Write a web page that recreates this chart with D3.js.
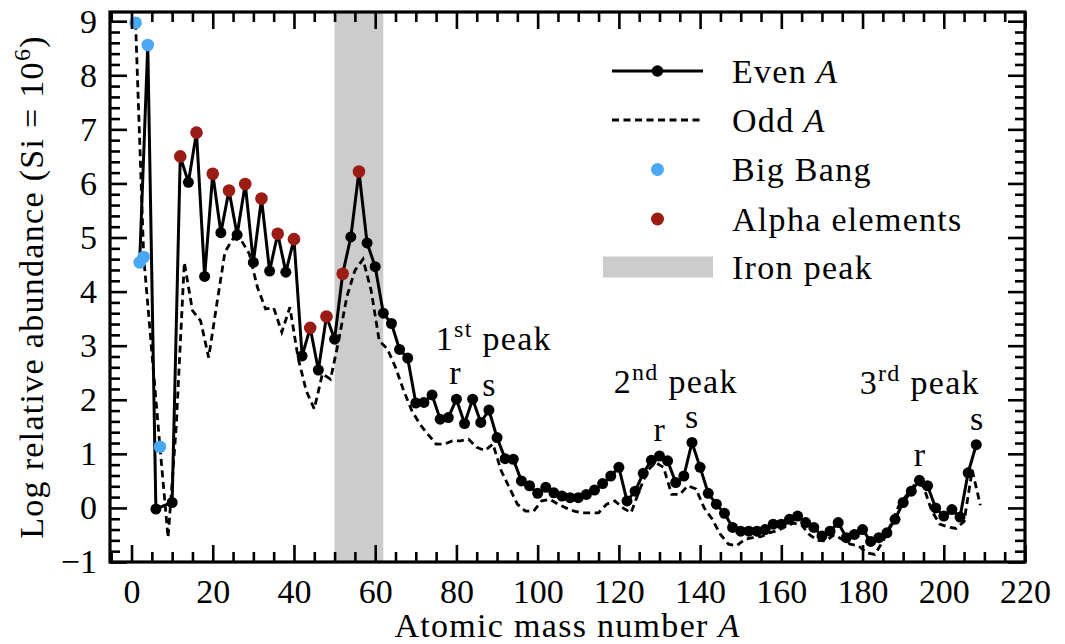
<!DOCTYPE html>
<html>
<head>
<meta charset="utf-8">
<title>Abundances</title>
<script src="https://cdn.jsdelivr.net/npm/d3@7"></script>
<style>
  body { margin: 0; background: #fff; }
  text { font-family: "Liberation Serif", serif; fill: #000; }
  .wide { letter-spacing: 1.3px; }
</style>
</head>
<body>
<div id="chart"></div>
<script>

// even mass numbers and their log abundance
var evenA = [2, 4, 6, 10, 12, 14, 16, 18, 20, 22, 24, 26, 28, 30, 32, 34, 36, 38, 40, 42, 44, 46, 48, 50,
  52, 54, 56, 58, 60, 62, 64, 66, 68, 70, 72, 74, 76, 78, 80, 82, 84, 86, 88, 90, 92, 94, 96, 98, 100,
  102, 104, 106, 108, 110, 112, 114, 116, 118, 120, 122, 124, 126, 128, 130, 132, 134, 136, 138, 140,
  142, 144, 146, 148, 150, 152, 154, 156, 158, 160, 162, 164, 166, 168, 170, 172, 174, 176, 178, 180,
  182, 184, 186, 188, 190, 192, 194, 196, 198, 200, 202, 204, 206, 208];
var evenLog = [4.54, 8.56, -0.02, 0.10, 6.50, 6.02, 6.94, 4.28, 6.18, 5.09, 5.87, 5.05, 5.99, 4.54, 5.72, 4.38,
  5.07, 4.36, 4.97, 2.81, 3.33, 2.55, 3.54, 3.12, 4.33, 5.01, 6.22, 4.90, 4.46, 3.60, 3.41, 2.93, 2.77,
  1.94, 1.95, 2.09, 1.64, 1.67, 2.01, 1.56, 2.01, 1.58, 1.81, 1.30, 0.91, 0.90, 0.50, 0.41, 0.27, 0.38,
  0.28, 0.22, 0.19, 0.19, 0.25, 0.33, 0.45, 0.59, 0.75, 0.13, 0.31, 0.64, 0.88, 0.96, 0.87, 0.47, 0.59,
  1.21, 0.75, 0.27, 0.07, -0.10, -0.36, -0.43, -0.43, -0.43, -0.40, -0.30, -0.30, -0.21, -0.15, -0.27,
  -0.36, -0.52, -0.43, -0.27, -0.55, -0.49, -0.40, -0.62, -0.55, -0.46, -0.21, 0.10, 0.31, 0.51, 0.41,
  0.00, -0.15, -0.03, -0.17, 0.65, 1.17];

// odd mass numbers and their log abundance
var oddA = [1, 3, 7, 9, 11, 13, 15, 17, 19, 21, 23, 25, 27, 29, 31, 33, 35, 37, 39, 41, 43, 45, 47, 49, 51,
  53, 55, 57, 59, 61, 63, 65, 67, 69, 71, 73, 75, 77, 79, 81, 83, 85, 87, 89, 91, 93, 95, 97, 99, 101,
  103, 105, 107, 109, 111, 113, 115, 117, 119, 121, 123, 125, 127, 129, 131, 133, 135, 137, 139, 141,
  143, 145, 147, 149, 151, 153, 155, 157, 159, 161, 163, 165, 167, 169, 171, 173, 175, 177, 179, 181,
  183, 185, 187, 189, 191, 193, 195, 197, 199, 201, 203, 205, 207, 209];
var oddLog = [8.97, 4.64, 1.13, -0.55, 1.50, 4.54, 3.65, 3.46, 2.78, 3.77, 4.73, 4.98, 4.95, 4.70, 4.08, 3.68,
  3.70, 3.25, 3.71, 2.78, 2.17, 1.83, 2.48, 2.38, 3.09, 3.90, 4.39, 4.60, 4.02, 3.09, 2.94, 2.60, 2.17,
  1.80, 1.55, 1.36, 1.18, 1.18, 1.24, 1.24, 1.27, 1.12, 1.06, 1.18, 0.69, 0.38, 0.07, -0.06, -0.06, 0.13,
  0.16, 0.07, 0.00, -0.06, -0.09, -0.09, -0.09, 0.07, 0.13, 0.00, -0.09, 0.31, 0.69, 0.84, 0.75, 0.25,
  0.25, 0.41, 0.35, 0.00, -0.21, -0.49, -0.67, -0.70, -0.58, -0.55, -0.53, -0.46, -0.42, -0.35, -0.28,
  -0.32, -0.50, -0.60, -0.61, -0.50, -0.58, -0.67, -0.70, -0.83, -0.86, -0.62, -0.30, 0.05, 0.25, 0.45,
  0.40, -0.05, -0.30, -0.35, -0.38, -0.25, 0.70, 0.05];

var bigBangA = [1, 2, 3, 4, 7];
var alphaA = [12, 16, 20, 24, 28, 32, 36, 40, 44, 48, 52, 56];
var ironPeak = [50, 62];

var xTicks = [0, 20, 40, 60, 80, 100, 120, 140, 160, 180, 200, 220];
var yTicks = [-1, 0, 1, 2, 3, 4, 5, 6, 7, 8, 9];

// peak annotations (data coords)
var peakNum = ["1", "2", "3"];
var peakSup = ["st", "nd", "rd"];
var peakX = [89.2, 134, 194.1];
var peakY = [2.92, 2.13, 2.10];
var procText = ["r", "s", "r", "s", "r", "s"];
var procX = [79.6, 88, 129.9, 137.9, 194, 208.1];
var procY = [2.29, 2.07, 1.24, 1.48, 0.78, 1.44];

var legendNames = ["Even", "Odd", "Big Bang", "Alpha elements", "Iron peak"];

var blue = "#4aa8f6", red = "#9b1c14", grey = "#cccccc";

var W = 1065, H = 644;
var padL = 110, padR = 1025, padT = 12, padB = 562;

var svg = d3.select("#chart").append("svg").attr("width", W).attr("height", H);

var x = d3.scaleLinear().domain([-5.3, 220]).range([padL, padR]);
var y = d3.scaleLinear().domain([-1, 9.17]).range([padB, padT]);

var even = evenA.map(function(a, i) { return [a, evenLog[i]]; });
var odd = oddA.map(function(a, i) { return [a, oddLog[i]]; });
var lookup = {};
even.concat(odd).forEach(function(d) { lookup[d[0]] = d[1]; });

// iron peak band
svg.append("rect")
  .attr("x", x(ironPeak[0])).attr("y", padT)
  .attr("width", x(ironPeak[1]) - x(ironPeak[0])).attr("height", padB - padT)
  .attr("fill", grey);

var line = d3.line().x(function(d) { return x(d[0]); }).y(function(d) { return y(d[1]); });

svg.append("path").datum(odd).attr("d", line)
  .attr("fill", "none").attr("stroke", "#000").attr("stroke-width", 2.8)
  .attr("stroke-dasharray", "7,4.5");

svg.append("path").datum(even).attr("d", line)
  .attr("fill", "none").attr("stroke", "#000").attr("stroke-width", 3).attr("stroke-linejoin", "round");

svg.selectAll("circle.even").data(even).enter().append("circle")
  .attr("class", "even").attr("r", 5.5)
  .attr("cx", function(d) { return x(d[0]); })
  .attr("cy", function(d) { return y(d[1]); })
  .attr("fill", "#000");

svg.selectAll("circle.alpha").data(alphaA).enter().append("circle")
  .attr("class", "alpha").attr("r", 6.3)
  .attr("cx", function(a) { return x(a); })
  .attr("cy", function(a) { return y(lookup[a]); })
  .attr("fill", red);

svg.selectAll("circle.bb").data(bigBangA).enter().append("circle")
  .attr("class", "bb").attr("r", 6.3)
  .attr("cx", function(a) { return x(a); })
  .attr("cy", function(a) { return y(lookup[a]); })
  .attr("fill", blue);

// axes, ticks pointing inward on all four sides
var minorX = d3.range(-5, 221, 5).filter(function(v) { return v % 20 !== 0; });
var minorY = d3.range(-1, 9.1, 0.2).filter(function(v) { return Math.abs(v - Math.round(v)) > 0.01; });

function styleAxis(g) {
  g.select(".domain").remove();
  g.selectAll("line").attr("stroke", "#000").attr("stroke-width", 2.6);
  g.selectAll("text").style("font-family", "'Liberation Serif', serif").style("font-size", "34px");
}

svg.append("g").attr("transform", "translate(0," + padB + ")")
  .call(d3.axisBottom(x).tickValues(xTicks).tickSize(-17).tickPadding(17).tickFormat(d3.format("d")))
  .call(styleAxis);
svg.append("g").attr("transform", "translate(0," + padB + ")")
  .call(d3.axisBottom(x).tickValues(minorX).tickSize(-10).tickFormat(""))
  .call(styleAxis);
svg.append("g").attr("transform", "translate(0," + padT + ")")
  .call(d3.axisTop(x).tickValues(xTicks).tickSize(-17).tickFormat(""))
  .call(styleAxis);
svg.append("g").attr("transform", "translate(0," + padT + ")")
  .call(d3.axisTop(x).tickValues(minorX).tickSize(-10).tickFormat(""))
  .call(styleAxis);

svg.append("g").attr("transform", "translate(" + padL + ",0)")
  .call(d3.axisLeft(y).tickValues(yTicks).tickSize(-17).tickPadding(13).tickFormat(d3.format("d")))
  .call(styleAxis);
svg.append("g").attr("transform", "translate(" + padL + ",0)")
  .call(d3.axisLeft(y).tickValues(minorY).tickSize(-10).tickFormat(""))
  .call(styleAxis);
svg.append("g").attr("transform", "translate(" + padR + ",0)")
  .call(d3.axisRight(y).tickValues(yTicks).tickSize(-17).tickFormat(""))
  .call(styleAxis);
svg.append("g").attr("transform", "translate(" + padR + ",0)")
  .call(d3.axisRight(y).tickValues(minorY).tickSize(-10).tickFormat(""))
  .call(styleAxis);

svg.append("rect").attr("x", padL).attr("y", padT)
  .attr("width", padR - padL).attr("height", padB - padT)
  .attr("fill", "none").attr("stroke", "#000").attr("stroke-width", 3.2);

// axis titles
var xl = svg.append("text").attr("class", "wide").attr("x", (padL + padR) / 2).attr("y", 637)
  .attr("text-anchor", "middle").style("font-size", "34px");
xl.append("tspan").text("Atomic mass number ");
xl.append("tspan").style("font-style", "italic").text("A");

var yl = svg.append("text").attr("class", "wide")
  .attr("transform", "translate(43," + (padT + padB) / 2 + ") rotate(-90)")
  .attr("text-anchor", "middle").style("font-size", "34px");
yl.append("tspan").text("Log relative abundance (Si = 10");
yl.append("tspan").attr("dy", -13).style("font-size", "24px").text("6");
yl.append("tspan").attr("dy", 13).text(")");

// peak annotations
peakNum.forEach(function(n, i) {
  var t = svg.append("text").attr("class", "wide").attr("x", x(peakX[i])).attr("y", y(peakY[i]))
    .attr("text-anchor", "middle").style("font-size", "34px");
  t.append("tspan").text(n);
  t.append("tspan").attr("dy", -13).style("font-size", "24px").text(peakSup[i]);
  t.append("tspan").attr("dy", 13).text(" peak");
});
procText.forEach(function(s, i) {
  svg.append("text").attr("x", x(procX[i])).attr("y", y(procY[i]))
    .attr("text-anchor", "middle").style("font-size", "34px").text(s);
});

// legend
var legY = [71, 120, 169.5, 219, 267];
var lg = svg.append("g");
lg.append("line").attr("x1", 612).attr("x2", 703).attr("y1", legY[0]).attr("y2", legY[0])
  .attr("stroke", "#000").attr("stroke-width", 3);
lg.append("circle").attr("cx", 657.5).attr("cy", legY[0]).attr("r", 5.8).attr("fill", "#000");
lg.append("line").attr("x1", 612).attr("x2", 703).attr("y1", legY[1]).attr("y2", legY[1])
  .attr("stroke", "#000").attr("stroke-width", 2.8).attr("stroke-dasharray", "7,4.5");
lg.append("circle").attr("cx", 657.5).attr("cy", legY[2]).attr("r", 6.5).attr("fill", blue);
lg.append("circle").attr("cx", 657.5).attr("cy", legY[3]).attr("r", 6.5).attr("fill", red);
lg.append("rect").attr("x", 603).attr("y", legY[4] - 10.5).attr("width", 110).attr("height", 21).attr("fill", grey);

legendNames.forEach(function(name, i) {
  var t = lg.append("text").attr("class", "wide").attr("x", 732).attr("y", legY[i]).attr("dy", "0.35em")
    .style("font-size", "34px");
  t.append("tspan").text(name);
  if (i < 2) t.append("tspan").style("font-style", "italic").text(" A");
});

</script>
</body>
</html>
